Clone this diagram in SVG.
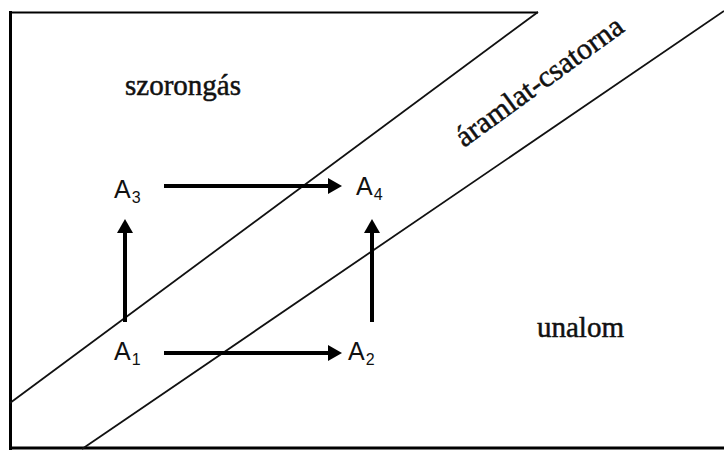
<svg xmlns="http://www.w3.org/2000/svg" width="724" height="450" viewBox="0 0 724 450">
<style>
.frame{stroke:#000;fill:none;}
.diag{stroke:#111;stroke-width:1.8;fill:none;}
.arrow{stroke:#000;stroke-width:4;fill:none;}
.region{font-family:"Liberation Serif","Times New Roman",serif;font-size:29px;fill:#111;stroke:#111;stroke-width:0.5;}
.node{font-family:"Liberation Sans",Arial,sans-serif;font-size:25px;fill:#111;}
.sub{font-size:16px;}
</style>
<defs>
<marker id="head" markerUnits="userSpaceOnUse" markerWidth="14" markerHeight="16" viewBox="0 0 14 16" refX="1" refY="8" orient="auto">
<path d="M0,0 L14,8 L0,16 z" fill="#000"/>
</marker>
</defs>
<rect width="724" height="450" fill="#fff"/>
<g id="axes">
<line class="frame" x1="10.5" y1="11" x2="10.5" y2="450" stroke-width="3"/>
<line class="frame" x1="9" y1="12.5" x2="538" y2="12.5" stroke-width="2"/>
<line class="frame" x1="9" y1="448" x2="724" y2="448" stroke-width="3"/>
</g>
<g id="channel">
<line class="diag" x1="10" y1="403" x2="538" y2="12"/>
<line class="diag" x1="82" y1="449" x2="724" y2="11"/>
</g>
<g id="labels">
<text class="region" x="125" y="95">szorongás</text>
<text class="region" x="537" y="337">unalom</text>
<text class="region" style="font-size:30px" transform="translate(464,148) rotate(-36)">áramlat-csatorna</text>
</g>
<g id="A1"><text class="node" x="114" y="360">A<tspan class="sub" dx="1" dy="5">1</tspan></text></g>
<g id="A2"><text class="node" x="348" y="360">A<tspan class="sub" dx="1" dy="5">2</tspan></text></g>
<g id="A3"><text class="node" x="114" y="198">A<tspan class="sub" dx="1" dy="5">3</tspan></text></g>
<g id="A4"><text class="node" x="356" y="195">A<tspan class="sub" dx="1" dy="5">4</tspan></text></g>
<g id="connectors">
<line class="arrow" x1="164" y1="186" x2="329" y2="186" marker-end="url(#head)"/>
<line class="arrow" x1="164" y1="353" x2="329" y2="353" marker-end="url(#head)"/>
<line class="arrow" x1="125" y1="322" x2="125" y2="232" marker-end="url(#head)"/>
<line class="arrow" x1="372" y1="322" x2="372" y2="232" marker-end="url(#head)"/>
</g>
</svg>
